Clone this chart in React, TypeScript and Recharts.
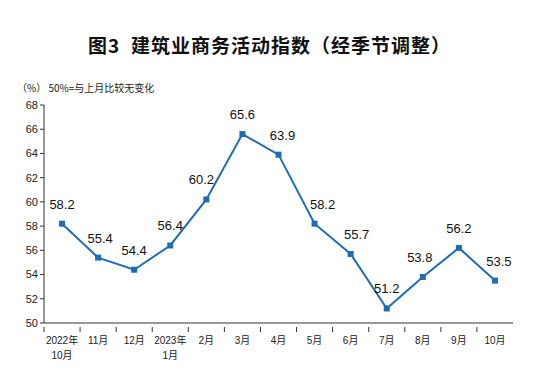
import { LineChart, Line, XAxis, YAxis, LabelList } from "recharts";

const months = [
  "2022年|10月",
  "11月",
  "12月",
  "2023年|1月",
  "2月",
  "3月",
  "4月",
  "5月",
  "6月",
  "7月",
  "8月",
  "9月",
  "10月",
];
const index = [58.2, 55.4, 54.4, 56.4, 60.2, 65.6, 63.9, 58.2, 55.7, 51.2, 53.8, 56.2, 53.5];
const yTicks = [50, 52, 54, 56, 58, 60, 62, 64, 66, 68];
// small horizontal nudges for the value labels
const labelShift = [0, 2, 0, 0, -5, 0, 4, 8, 6, 0, -3, 0, 4];

const data = months.map((m, i) => ({ month: m, value: index[i] }));

const W = 539;
const H = 389;
const LEFT = 44;
const RIGHT = 513;
const BAND = (RIGHT - LEFT) / months.length;
const BLUE = "#1f6cb5";
const FONT = '"Liberation Sans", Arial, "Noto Sans CJK SC", sans-serif';

const MonthTick = (props: any) => {
  const { x, y, payload } = props;
  const parts = String(payload.value).split("|");
  const bx = x - BAND / 2;
  return (
    <g>
      <line x1={bx} x2={bx} y1={y - 4} y2={y + 1} stroke="#333" strokeWidth={1} />
      {parts.map((p, i) => (
        <text
          key={i}
          x={x}
          y={y + 13 + i * 15}
          textAnchor="middle"
          fontSize={10}
          fill="#222"
          fontFamily={FONT}
        >
          {p}
        </text>
      ))}
    </g>
  );
};

const ValueLabel = (props: any) => {
  const { x, y, value, index: i } = props;
  return (
    <text
      x={x + (labelShift[i] || 0)}
      y={y - 15}
      textAnchor="middle"
      fontSize={13}
      fill="#111"
      fontFamily={FONT}
    >
      {value}
    </text>
  );
};

const Square = (props: any) => {
  const { cx, cy } = props;
  return <rect x={cx - 3} y={cy - 3} width={6} height={6} fill={BLUE} />;
};

export default function App() {
  return (
    <div style={{ margin: -8, position: "relative", width: W, height: H, background: "#fff" }}>
      <div
        style={{
          position: "absolute",
          top: 31,
          left: 0,
          width: W,
          textAlign: "center",
          fontSize: 19,
          fontWeight: "bold",
          fontFamily: '"Noto Sans CJK SC", sans-serif',
          color: "#111",
          letterSpacing: 1,
        }}
      >
        图3&nbsp;&nbsp;建筑业商务活动指数（经季节调整）
      </div>
      <div
        style={{
          position: "absolute",
          top: 80,
          left: 17,
          fontSize: 10,
          fontFamily: '"Noto Sans CJK SC", sans-serif',
          color: "#222",
        }}
      >
        （%） 50%=与上月比较无变化
      </div>
      <LineChart
        width={W}
        height={H}
        data={data}
        margin={{ top: 105, right: W - RIGHT, bottom: 26, left: 14 }}
      >
        <XAxis
          dataKey="month"
          interval={0}
          tick={<MonthTick />}
          tickLine={false}
          axisLine={{ stroke: "#333" }}
          padding={{ left: BAND / 2, right: BAND / 2 }}
          height={40}
        />
        <XAxis xAxisId="top" orientation="top" dataKey="month" tick={false} tickLine={false} axisLine={{ stroke: "#333" }} height={0} />
        <YAxis
          domain={[50, 68]}
          ticks={yTicks}
          interval={0}
          width={30}
          tickSize={4}
          tickLine={{ stroke: "#333" }}
          axisLine={{ stroke: "#333" }}
          tick={{ fontSize: 11, fill: "#222", fontFamily: FONT }}
        />
        <YAxis yAxisId="r" orientation="right" domain={[50, 68]} tick={false} tickLine={false} axisLine={{ stroke: "#333" }} width={0} />
        <Line
          dataKey="value"
          stroke={BLUE}
          strokeWidth={2}
          dot={<Square />}
          activeDot={false}
          isAnimationActive={false}
        >
          <LabelList dataKey="value" content={<ValueLabel />} />
        </Line>
      </LineChart>
    </div>
  );
}
